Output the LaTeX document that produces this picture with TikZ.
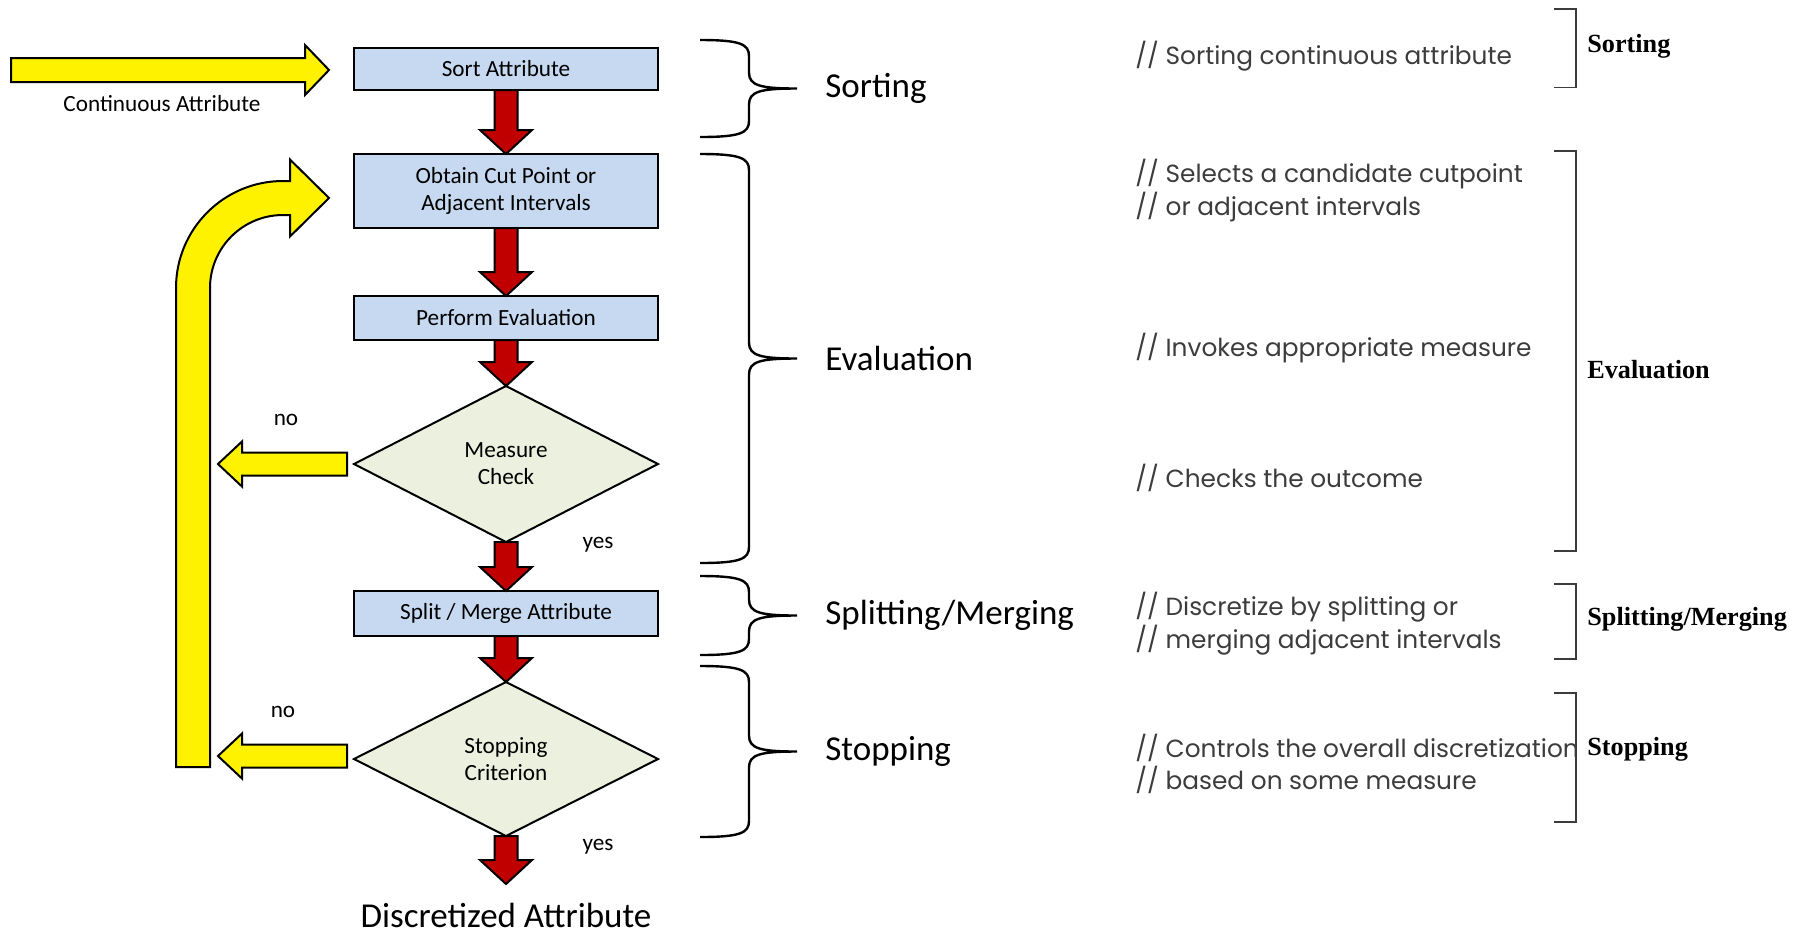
\documentclass[tikz,border=0pt]{standalone}
\usepackage{fontspec}
\setmainfont{Carlito}
\newfontfamily\notefont{Poppins}
\newfontfamily\tagfont{Liberation Serif}
\usepackage{xcolor}
\usetikzlibrary{positioning, shapes.geometric, calc}

\definecolor{boxblue}{HTML}{C6D9F1}
\definecolor{decfill}{HTML}{EBF1DE}
\definecolor{flowred}{HTML}{C00000}
\definecolor{notegray}{HTML}{3C3C3C}

\newcommand{\boxfont}{\fontsize{11.6}{13.6}\selectfont}

% red block arrow, straight down from #1 to #2
\newcommand{\redflow}[2]{%
  \draw[redarrow] let \p1=(#1), \p2=(#2) in
    (\x1-5.75pt,\y1) -- (\x1+5.75pt,\y1) -- (\x1+5.75pt,\y2+12pt) -- (\x1+13pt,\y2+12pt)
    -- (\x1,\y2) -- (\x1-13pt,\y2+12pt) -- (\x1-5.75pt,\y2+12pt) -- cycle;}
% yellow block arrows, horizontal
\newcommand{\yellowright}[2]{%
  \draw[yellowarrow] let \p1=(#1), \p2=(#2) in
    (\x1,\y1+6pt) -- (\x2-12pt,\y1+6pt) -- (\x2-12pt,\y1+12.5pt) -- (\x2,\y1)
    -- (\x2-12pt,\y1-12.5pt) -- (\x2-12pt,\y1-6pt) -- (\x1,\y1-6pt) -- cycle;}
\newcommand{\yellowleft}[2]{%
  \draw[yellowarrow] let \p1=(#1), \p2=(#2) in
    (\x1,\y1+5.75pt) -- (\x2+12pt,\y1+5.75pt) -- (\x2+12pt,\y1+11.25pt) -- (\x2,\y1)
    -- (\x2+12pt,\y1-11.25pt) -- (\x2+12pt,\y1-5.75pt) -- (\x1,\y1-5.75pt) -- cycle;}

\begin{document}
\begin{tikzpicture}[
  x=0.5pt, y=-0.5pt,
  flowbox/.style={rectangle, draw, line width=1.3pt, outer sep=0pt, fill=boxblue,
                  minimum width=152pt, align=center, font=\boxfont},
  decision/.style={diamond, draw, line width=1pt, outer sep=0pt, fill=decfill, aspect=2,
                   inner sep=0pt, minimum width=152pt, minimum height=78pt,
                   align=center, font=\boxfont},
  redarrow/.style={draw=black, line width=1pt, fill=flowred, line join=miter},
  yellowarrow/.style={draw=black, line width=1pt, fill=yellow, line join=miter},
  lbl/.style={font=\boxfont, inner sep=0pt},
  phase/.style={font=\fontsize{17.5}{20}\selectfont, anchor=west, inner sep=0pt},
  note/.style={font=\notefont\fontsize{12.4}{16.25}\selectfont, text=notegray,
               anchor=west, align=left, inner sep=0pt},
  tag/.style={font=\tagfont\bfseries\fontsize{13.1}{15}\selectfont, anchor=west, inner sep=0pt},
  curly/.style={line width=1.2pt},
  bracketline/.style={draw=notegray, line width=0.8pt},
]
  \useasboundingbox (0,0) rectangle (1804,934);

  % flow column
  \node[flowbox, minimum height=21pt] (sort) at (506,69) {Sort Attribute};
  \node[flowbox, minimum height=37pt, below=32pt of sort] (obtain) {Obtain Cut Point or\\Adjacent Intervals};
  \node[flowbox, minimum height=22pt, below=34pt of obtain] (perform) {Perform Evaluation};
  \node[decision, below=23pt of perform] (measure) {Measure\\Check};
  \node[flowbox, minimum height=22.5pt, below=24.5pt of measure] (split) {Split / Merge Attribute};
  \node[decision, minimum height=77pt, below=23pt of split] (stop) {Stopping\\Criterion};
  \coordinate (endtip) at ([yshift=-24pt]stop.south);
  \node[inner sep=0pt, font=\fontsize{17.5}{20}\selectfont] (result) at ([yshift=-15.5pt]endtip) {Discretized Attribute};

  \redflow{sort.south}{obtain.north}
  \redflow{obtain.south}{perform.north}
  \redflow{perform.south}{measure.north}
  \redflow{measure.south}{split.north}
  \redflow{split.south}{stop.north}
  \redflow{stop.south}{endtip}

  \node[lbl] (yes1) at ([xshift=46pt,yshift=-1.5pt]measure.south) {yes};
  \node[lbl] (yes2) at ([xshift=46pt,yshift=-5.5pt]stop.south) {yes};
  \node[lbl] (no1) at ([xshift=-34pt,yshift=22pt]measure.west) {no};
  \node[lbl] (no2) at ([xshift=-35.5pt,yshift=23.5pt]stop.west) {no};

  % input and feedback arrows
  \coordinate (cin) at (11,70);
  \node[lbl] (cinlabel) at (162,104) {Continuous Attribute};
  \yellowright{cin}{[xshift=-12.5pt]sort.west}
  \yellowleft{[xshift=-3.5pt]measure.west}{[xshift=-68pt]measure.west}
  \yellowleft{[xshift=-3.5pt,yshift=1.5pt]stop.west}{[xshift=-68pt,yshift=1.5pt]stop.west}
  \coordinate (loopbot) at (193,767);
  \draw[yellowarrow] let \p1=(loopbot), \p2=([xshift=-12.5pt,yshift=-3.5pt]obtain.west) in
    (\x1-8.5pt,\y1) -- (\x1-8.5pt,\y2-45pt) arc[start angle=180, end angle=90, radius=53.5pt]
    -- (\x2-19.5pt,\y2+8.5pt) -- (\x2-19.5pt,\y2+19.25pt) -- (\x2,\y2)
    -- (\x2-19.5pt,\y2-19.25pt) -- (\x2-19.5pt,\y2-8.5pt) -- (\x2-23pt,\y2-8.5pt)
    arc[start angle=90, end angle=180, radius=36.5pt] -- (\x1+8.5pt,\y1) -- cycle;

  % phase braces
  \foreach \t/\b/\lab [count=\i] in {40/137/Sorting, 154/563/Evaluation,
                                     576/655/Splitting\slash Merging, 666/837/Stopping} {
    \pgfmathsetmacro\m{(\t+\b)/2}
    \draw[curly] (700,\t) .. controls (740,\t) and (749,\t+4) .. (749,\t+16) -- (749,\m-16)
      .. controls (749,\m-3) and (760,\m) .. (797,\m)
      .. controls (760,\m) and (749,\m+3) .. (749,\m+16) -- (749,\b-16)
      .. controls (749,\b-4) and (740,\b) .. (700,\b);
    \node[phase] (phase\i) at (825,\m) {\lab};
  }

  % comments
  \node[note] (n1) at (1135,56.6) {// Sorting continuous attribute};
  \node[note] (n2) at (1135,190.75) {// Selects a candidate cutpoint\\// or adjacent intervals};
  \node[note] (n3) at (1135,348.4) {// Invokes appropriate measure};
  \node[note] (n4) at (1135,477.7) {// Checks the outcome};
  \node[note] (n5) at (1135,623.75) {// Discretize by splitting or\\// merging adjacent intervals};
  \node[note] (n6) at (1135,763.75) {// Controls the overall discretization\\// based on some measure};

  % right brackets
  \foreach \t/\b in {9/87.5, 151/551, 584/659, 693/822}
    \draw[bracketline] (1554,\t) -- (1576,\t) -- (1576,\b) -- (1554,\b);
  \node[tag] (tag1) at (1587,46) {Sorting};
  \node[tag] (tag2) at (1587,370) {Evaluation};
  \node[tag] (tag3) at (1587,619) {Splitting/Merging};
  \node[tag] (tag4) at (1587,749) {Stopping};
\end{tikzpicture}
\end{document}
